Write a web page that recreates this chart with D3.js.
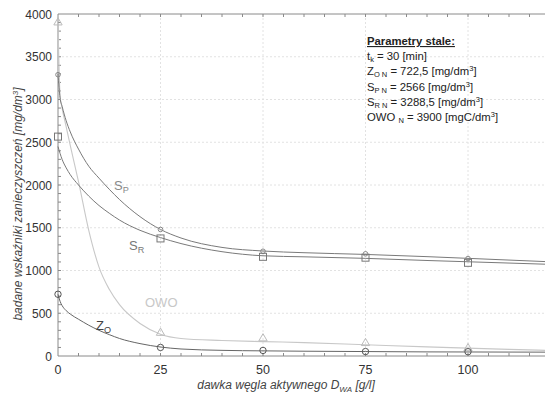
<!DOCTYPE html>
<html>
<head>
<meta charset="utf-8">
<script src="https://cdn.jsdelivr.net/npm/d3@7"></script>
<style>
  body { margin: 0; background: #fff; }
  svg { display: block; font-family: "Liberation Sans", Arial, sans-serif; }
</style>
</head>
<body>
<svg id="chart" width="545" height="395"></svg>
<script>
// measured points
const doses = [0, 25, 50, 75, 100]
const spPoints = [3290, 1480, 1225, 1195, 1140]
const srPoints = [2566, 1375, 1160, 1150, 1090]
const owoPoints = [3900, 270, 205, 150, 90]
const zoPoints = [722, 100, 65, 52, 50]

// fitted curves
const curveX = [0, 0.5, 1, 2, 3, 5, 7.5, 10, 12.5, 15, 20, 25, 30, 40, 50, 60, 75, 90, 100, 110, 120]
const spCurve = [3300, 3020, 2920, 2750, 2620, 2420, 2220, 2080, 1950, 1830, 1630, 1480, 1380, 1270, 1228, 1208, 1188, 1162, 1142, 1122, 1102]
const srCurve = [2450, 2370, 2300, 2200, 2120, 2000, 1870, 1760, 1670, 1590, 1470, 1385, 1315, 1220, 1172, 1160, 1142, 1117, 1102, 1087, 1072]
const owoCurve = [3900, 3050, 2900, 2680, 2460, 2040, 1470, 1040, 780, 600, 380, 255, 205, 182, 168, 157, 132, 107, 92, 77, 65]
const zoCurve = [722, 640, 590, 530, 490, 430, 360, 300, 250, 205, 145, 105, 82, 66, 60, 56, 52, 48, 47, 46, 45]

const xTicks = [0, 25, 50, 75, 100]
const yTicks = [0, 500, 1000, 1500, 2000, 2500, 3000, 3500, 4000]

const svg = d3.select('#chart')
const x = d3.scaleLinear().domain([0, 120]).range([58, 550])
const y = d3.scaleLinear().domain([0, 4000]).range([356, 14])

const dark = '#7a7a7a'
const light = '#c8c8c8'
const frame = '#8a8a8a'

// grid
svg.append('g')
  .selectAll('line')
  .data(xTicks.slice(1))
  .enter()
  .append('line')
  .attr('x1', d => x(d)).attr('x2', d => x(d))
  .attr('y1', y(0)).attr('y2', y(4000))
  .attr('stroke', '#e2e2e2').attr('stroke-dasharray', '2,2')
svg.append('g')
  .selectAll('line')
  .data(yTicks.slice(1, -1))
  .enter()
  .append('line')
  .attr('x1', x(0)).attr('x2', 545)
  .attr('y1', d => y(d)).attr('y2', d => y(d))
  .attr('stroke', '#e2e2e2').attr('stroke-dasharray', '2,2')

// frame
svg.append('line').attr('x1', x(0)).attr('x2', 545).attr('y1', y(0)).attr('y2', y(0)).attr('stroke', frame)
svg.append('line').attr('x1', x(0)).attr('x2', 545).attr('y1', y(4000)).attr('y2', y(4000)).attr('stroke', frame)
svg.append('line').attr('x1', x(0)).attr('x2', x(0)).attr('y1', y(0)).attr('y2', y(4000)).attr('stroke', frame)

// minor ticks
const xMinor = d3.range(5, 121, 5)
svg.append('g').selectAll('line').data(xMinor).enter().append('line')
  .attr('x1', d => x(d)).attr('x2', d => x(d))
  .attr('y1', y(0)).attr('y2', y(0) - 3).attr('stroke', frame)
svg.append('g').selectAll('line').data(xMinor).enter().append('line')
  .attr('x1', d => x(d)).attr('x2', d => x(d))
  .attr('y1', y(4000)).attr('y2', y(4000) + 3).attr('stroke', frame)
svg.append('g').selectAll('line').data(d3.range(100, 4000, 100)).enter().append('line')
  .attr('x1', x(0)).attr('x2', x(0) + 3)
  .attr('y1', d => y(d)).attr('y2', d => y(d)).attr('stroke', frame)

// tick labels
svg.append('g').selectAll('text').data(xTicks).enter().append('text')
  .attr('x', d => x(d)).attr('y', 374)
  .attr('text-anchor', 'middle').attr('font-size', 12.5).attr('fill', '#333')
  .text(d => d)
svg.append('g').selectAll('text').data(yTicks).enter().append('text')
  .attr('x', 52).attr('y', d => y(d) + 4.5)
  .attr('text-anchor', 'end').attr('font-size', 12).attr('fill', '#333')
  .text(d => d)

// axis titles
const xTitle = svg.append('text')
  .attr('x', 286).attr('y', 389)
  .attr('text-anchor', 'middle').attr('font-size', 12).attr('font-style', 'italic').attr('fill', '#444')
xTitle.append('tspan').text('dawka węgla aktywnego D')
xTitle.append('tspan').attr('font-size', 8).attr('dy', 3).text('WA')
xTitle.append('tspan').attr('dy', -3).text(' [g/l]')

const yTitle = svg.append('text')
  .attr('transform', 'translate(22,204) rotate(-90)')
  .attr('text-anchor', 'middle').attr('font-size', 12).attr('font-style', 'italic').attr('fill', '#444')
yTitle.append('tspan').text('badane wskaźniki zanieczyszczeń [mg/dm')
yTitle.append('tspan').attr('font-size', 8).attr('dy', -4).text('3')
yTitle.append('tspan').attr('dy', 4).text(']')

// curves
const line = d3.line()
  .x((d, i) => x(curveX[i]))
  .y(d => y(d))
  .curve(d3.curveMonotoneX)

const plot = svg.append('g')
plot.append('path').datum(owoCurve).attr('d', line).attr('fill', 'none').attr('stroke', light).attr('stroke-width', 1.1)
plot.append('path').datum(spCurve).attr('d', line).attr('fill', 'none').attr('stroke', dark).attr('stroke-width', 1)
plot.append('path').datum(srCurve).attr('d', line).attr('fill', 'none').attr('stroke', dark).attr('stroke-width', 1)
plot.append('path').datum(zoCurve).attr('d', line).attr('fill', 'none').attr('stroke', '#666').attr('stroke-width', 1)

// markers
plot.append('g').selectAll('circle').data(spPoints).enter().append('circle')
  .attr('cx', (d, i) => x(doses[i])).attr('cy', d => y(d)).attr('r', 2.3)
  .attr('fill', 'none').attr('stroke', '#888')
plot.append('g').selectAll('rect').data(srPoints).enter().append('rect')
  .attr('x', (d, i) => x(doses[i]) - 3.5).attr('y', d => y(d) - 3.5)
  .attr('width', 7).attr('height', 7)
  .attr('fill', 'none').attr('stroke', '#777')
const tri = d3.symbol().type(d3.symbolTriangle).size(30)
plot.append('g').selectAll('path').data(owoPoints).enter().append('path')
  .attr('d', tri)
  .attr('transform', (d, i) => `translate(${x(doses[i])},${y(d)})`)
  .attr('fill', 'none').attr('stroke', '#bbb')
plot.append('g').selectAll('circle').data(zoPoints).enter().append('circle')
  .attr('cx', (d, i) => x(doses[i])).attr('cy', d => y(d)).attr('r', 3.2)
  .attr('fill', 'none').attr('stroke', '#555')

// series labels
const seriesLabel = (px, py, main, sub, color, size) => {
  const t = svg.append('text').attr('x', px).attr('y', py)
    .attr('font-size', size).attr('fill', color)
  t.append('tspan').text(main)
  if (sub) t.append('tspan').attr('font-size', size * 0.7).attr('dy', 3).text(sub)
}
seriesLabel(114, 190, 'S', 'P', '#888', 13)
seriesLabel(129, 250, 'S', 'R', '#777', 13)
seriesLabel(145, 307, 'OWO', null, '#c8c8c8', 13)
seriesLabel(96, 330, 'Z', 'O', '#444', 13)

// parameters box
const params = svg.append('g').attr('font-size', 11.3).attr('fill', '#222')
params.append('text').attr('x', 367).attr('y', 45)
  .attr('font-weight', 'bold').attr('text-decoration', 'underline').attr('fill', '#222')
  .text('Parametry stale:')
const paramLines = [
  ['t', 'k', ' = 30 [min]', null],
  ['Z', 'O N', ' = 722,5 [mg/dm', '3'],
  ['S', 'P N', ' = 2566 [mg/dm', '3'],
  ['S', 'R N', ' = 3288,5 [mg/dm', '3'],
  ['OWO ', 'N', ' = 3900 [mgC/dm', '3']
]
paramLines.forEach((p, i) => {
  const t = params.append('text').attr('x', 367).attr('y', 60 + i * 15.3).attr('fill', '#222')
  t.append('tspan').text(p[0])
  t.append('tspan').attr('font-size', 7.5).attr('dy', 2).text(p[1])
  t.append('tspan').attr('dy', -2).text(p[2])
  if (p[3]) {
    t.append('tspan').attr('font-size', 7.5).attr('dy', -4).text(p[3])
    t.append('tspan').attr('dy', 4).text(']')
  }
})
</script>
</body>
</html>
